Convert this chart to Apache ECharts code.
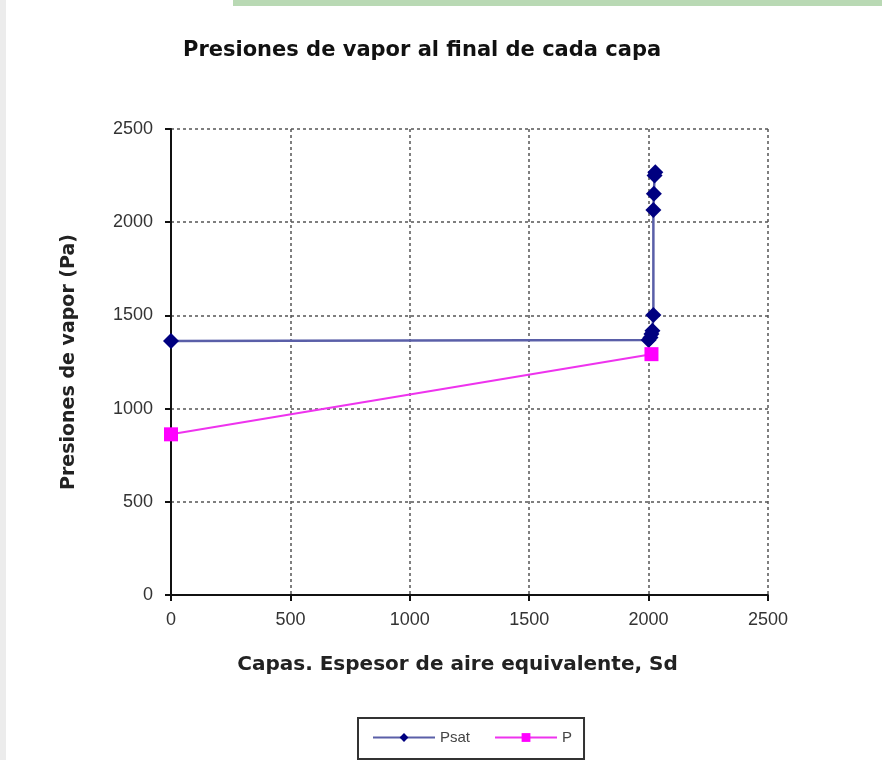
<!DOCTYPE html>
<html>
<head>
<meta charset="utf-8">
<script src="https://cdn.jsdelivr.net/npm/echarts@6/dist/echarts.min.js"></script>
<style>
  html, body { margin: 0; padding: 0; background: #fff; }
  #main { width: 882px; height: 760px; }
</style>
</head>
<body>
<div id="main"></div>
<script>
// valores
var psatX = [0, 2000, 2008, 2012, 2016, 2020, 2020, 2022, 2025, 2028];
var psatY = [1362, 1368, 1382, 1400, 1418, 1502, 2065, 2152, 2250, 2268];
var pX = [0, 2012];
var pY = [862, 1292];
var ticks = [0, 500, 1000, 1500, 2000, 2500];

window.addEventListener('load', function () {
    var myChart = echarts.init(document.getElementById('main'));
    var psat = psatX.map(function (x, i) { return [x, psatY[i]]; });
    var p = pX.map(function (x, i) { return [x, pY[i]]; });
    var font = 'Liberation Sans, Arial, sans-serif';
    var wide = 'DejaVu Sans, sans-serif';
    var lbl = function (v) { return ticks.indexOf(v) >= 0 ? String(v) : ''; };

    var option = {
        backgroundColor: '#fff',
        animation: false,
        graphic: [
            { type: 'rect', left: 233, top: 0, shape: { width: 649, height: 6 }, style: { fill: '#b9d9b4' } },
            { type: 'rect', left: 0, top: 0, shape: { width: 6, height: 760 }, style: { fill: '#ececec' } }
        ],
        title: {
            text: 'Presiones de vapor al final de cada capa',
            left: 178,
            top: 35,
            textStyle: { fontFamily: wide, fontSize: 21, fontWeight: 'bold', color: '#111' }
        },
        grid: { left: 171, right: 114, top: 129, bottom: 165 },
        legend: {
            left: 358,
            top: 718,
            itemWidth: 62,
            itemHeight: 11,
            itemGap: 24,
            padding: [12, 12, 14, 14],
            borderColor: '#333',
            borderWidth: 2,
            textStyle: { fontFamily: font, fontSize: 15, color: '#444' },
            data: ['Psat', 'P']
        },
        xAxis: {
            type: 'value',
            min: 0,
            max: 2500,
            interval: 500,
            name: 'Capas. Espesor de aire equivalente, Sd',
            nameLocation: 'middle',
            nameGap: 60,
            nameTextStyle: { fontFamily: wide, fontSize: 20, fontWeight: 'bold', color: '#222', padding: [0, 24, 0, 0] },
            axisLine: { lineStyle: { color: '#111', width: 2 } },
            axisTick: { show: true, length: 6, lineStyle: { color: '#111', width: 2 } },
            axisLabel: { fontFamily: font, fontSize: 18, color: '#333', margin: 16, formatter: lbl },
            splitLine: { show: true, lineStyle: { color: '#555', type: [3, 3], width: 1.5 } }
        },
        yAxis: {
            type: 'value',
            min: 0,
            max: 2500,
            interval: 500,
            name: 'Presiones de vapor (Pa)',
            nameLocation: 'middle',
            nameGap: 92,
            nameTextStyle: { fontFamily: wide, fontSize: 19, fontWeight: 'bold', color: '#222' },
            axisLine: { show: true, lineStyle: { color: '#111', width: 2 } },
            axisTick: { show: true, length: 6, lineStyle: { color: '#111', width: 2 } },
            axisLabel: { fontFamily: font, fontSize: 18, color: '#333', margin: 18, formatter: lbl },
            splitLine: { show: true, lineStyle: { color: '#555', type: [3, 3], width: 1.5 } }
        },
        series: [
            {
                name: 'Psat',
                type: 'line',
                data: psat,
                symbol: 'diamond',
                symbolSize: 16,
                itemStyle: { color: '#000080' },
                lineStyle: { color: '#5a5fa8', width: 2.5 }
            },
            {
                name: 'P',
                type: 'line',
                data: p,
                symbol: 'rect',
                symbolSize: 14,
                itemStyle: { color: '#ff00ff' },
                lineStyle: { color: '#ee33ee', width: 2 }
            }
        ]
    };
    myChart.setOption(option);
});
</script>
</body>
</html>
